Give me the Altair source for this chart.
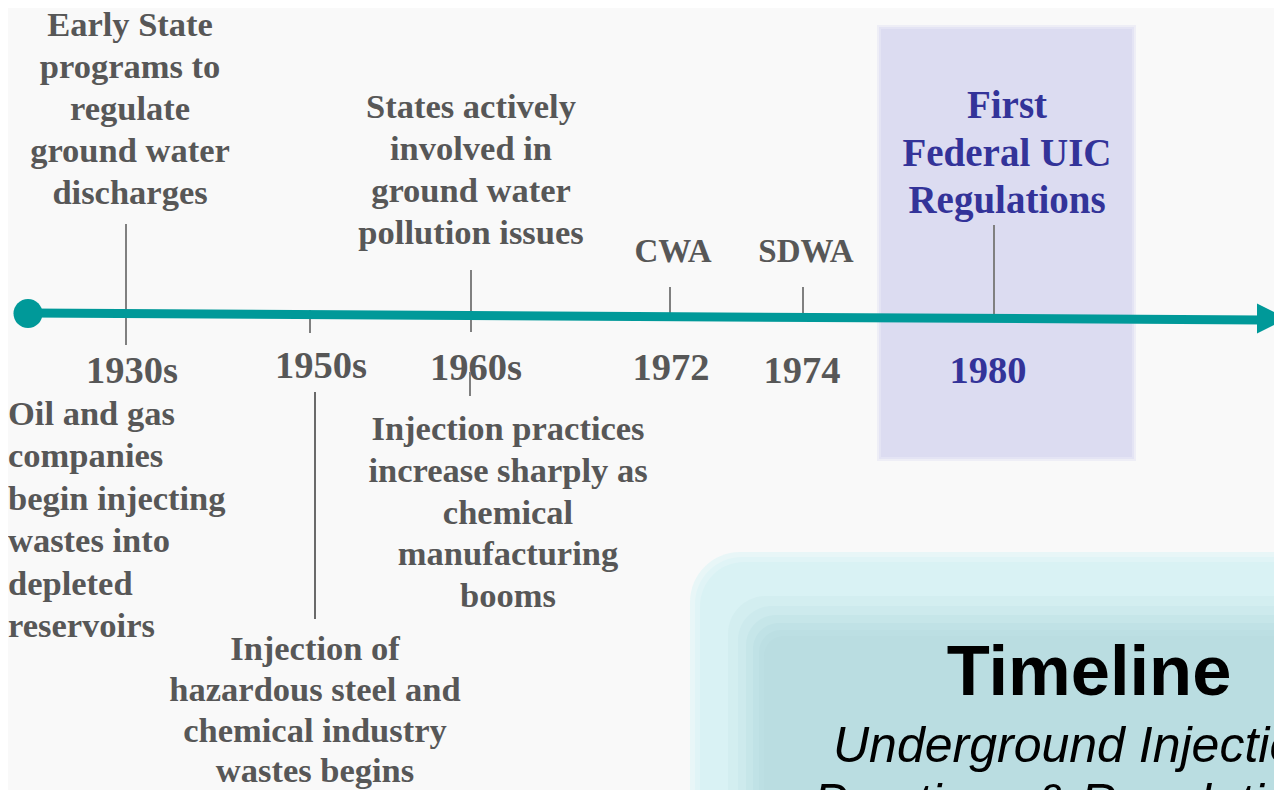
import altair as alt
import pandas as pd

# ---------------- data ----------------
years = ["1930s", "1950s", "1960s", "1972", "1974", "1980"]
above_text = [
    "Early State\nprograms to\nregulate\nground water\ndischarges",
    "States actively\ninvolved in\nground water\npollution issues",
    "CWA",
    "SDWA",
]
below_text_left = ["Oil and gas\ncompanies\nbegin injecting\nwastes into\ndepleted\nreservoirs"]
below_text_center = [
    "Injection practices\nincrease sharply as\nchemical\nmanufacturing\nbooms",
    "Injection of\nhazardous steel and\nchemical industry\nwastes begins",
]
highlight_text = ["First\nFederal UIC\nRegulations"]
title_text = "Timeline"
subtitle_text = "Underground Injection\nPractices & Regulations"

# ---------------- layout (pixel positions) ----------------
year_x = [132, 321, 476, 671, 802, 988]
year_y = [383, 378, 380, 380, 383, 383]
above_x = [130, 471, 673, 806]
above_y = [36, 118, 262, 262]
above_size = [34.5, 34.5, 33, 33]

GRAY = "#575757"
RULE = "#808080"
TEAL = "#009999"
PURPLE = "#333399"
SERIF = "Liberation Serif"
SANS = "Liberation Sans"

XMAX, YMAX = 1274, 790

X = lambda f="x": alt.X(f"{f}:Q", scale=alt.Scale(domain=[8, XMAX], nice=False, zero=False), axis=None)
Y = lambda f="y": alt.Y(f"{f}:Q", scale=alt.Scale(domain=[8, YMAX], nice=False, zero=False, reverse=True), axis=None)


def rects(df, **kw):
    return alt.Chart(df).mark_rect(**kw).encode(
        x=X("x"), x2="x2:Q", y=Y("y"), y2="y2:Q",
        color=alt.Color("c:N", scale=None),
    )


def texts(df, **kw):
    return alt.Chart(df).mark_text(lineBreak="\n", **kw).encode(
        x=X(), y=Y(), text="t:N",
        size=alt.Size("s:Q", scale=None),
        color=alt.Color("c:N", scale=None),
    )


# background panels
purple_box = rects(pd.DataFrame({
    "x": [877, 879, 881], "x2": [1136, 1134, 1132], "y": [25, 27, 29], "y2": [461, 459, 457],
    "c": ["#eeeef6", "#e4e4f4", "#dcdcf1"],
}))

teal_box_layers = []
for x0, y0, r, c in [
    (690, 552, 50, "#e8f6f7"),
    (695, 557, 47, "#e0f4f6"),
    (700, 562, 44, "#d9f2f4"),
    (728, 596, 38, "#d3eef0"),
    (738, 606, 34, "#cdeaed"),
    (746, 615, 30, "#c6e6e9"),
    (753, 623, 26, "#c0e2e6"),
    (759, 630, 22, "#bcdfe3"),
    (764, 636, 20, "#badde1"),
]:
    teal_box_layers.append(
        alt.Chart(pd.DataFrame({"x": [x0], "x2": [XMAX + r], "y": [y0], "y2": [YMAX + r], "c": [c]}))
        .mark_rect(cornerRadius=r, clip=True)
        .encode(x=X("x"), x2="x2:Q", y=Y("y"), y2="y2:Q", color=alt.Color("c:N", scale=None))
    )

# texts
above_df = pd.DataFrame({"x": above_x, "y": above_y, "t": above_text, "s": above_size, "c": GRAY})
above_layer = texts(above_df, font=SERIF, fontWeight="bold", align="center", baseline="alphabetic", lineHeight=42.1)

year_df = pd.DataFrame({
    "x": year_x, "y": year_y, "t": years, "s": [38.5] * 6,
    "c": [GRAY] * 5 + [PURPLE],
})
year_layer = texts(year_df, font=SERIF, fontWeight="bold", align="center", baseline="alphabetic")

left_df = pd.DataFrame({"x": [8], "y": [425], "t": below_text_left, "s": [34.5], "c": [GRAY]})
left_layer = texts(left_df, font=SERIF, fontWeight="bold", align="left", baseline="alphabetic", lineHeight=42.4)

center_a = pd.DataFrame({"x": [508], "y": [440], "t": [below_text_center[0]], "s": [34.5], "c": [GRAY]})
center_a_layer = texts(center_a, font=SERIF, fontWeight="bold", align="center", baseline="alphabetic", lineHeight=41.8)
center_b = pd.DataFrame({"x": [315], "y": [660], "t": [below_text_center[1]], "s": [34.5], "c": [GRAY]})
center_b_layer = texts(center_b, font=SERIF, fontWeight="bold", align="center", baseline="alphabetic", lineHeight=40.8)

hl_df = pd.DataFrame({"x": [1007], "y": [118], "t": highlight_text, "s": [39], "c": [PURPLE]})
hl_layer = texts(hl_df, font=SERIF, fontWeight="bold", align="center", baseline="alphabetic", lineHeight=47.5)

title_df = pd.DataFrame({"x": [1089], "y": [695], "t": [title_text], "s": [70.5], "c": ["#000000"]})
title_layer = texts(title_df, font=SANS, fontWeight="bold", align="center", baseline="alphabetic")

sub_df = pd.DataFrame({"x": [1079], "y": [762], "t": [subtitle_text], "s": [50], "c": ["#000000"]})
sub_layer = texts(sub_df, font=SANS, fontStyle="italic", align="center", baseline="alphabetic", lineHeight=57)

# connector rules
rule_df = pd.DataFrame({
    "x": [126, 310, 471, 470, 670, 803, 994],
    "y": [224, 310, 270, 372, 287, 287, 225],
    "y2": [345, 333, 332, 396, 316, 317, 318],
})
rules = alt.Chart(rule_df).mark_rule(color=RULE, strokeWidth=2).encode(x=X(), y=Y(), y2="y2:Q")
long_rule = alt.Chart(pd.DataFrame({"x": [315], "y": [392], "y2": [619]})).mark_rule(
    color="#3a3a3a", strokeWidth=1.5
).encode(x=X(), y=Y(), y2="y2:Q")

# timeline axis
axis_df = pd.DataFrame({"x": [28, 1262], "y": [313, 320]})
axis_line = alt.Chart(axis_df).mark_line(color=TEAL, strokeWidth=9, strokeCap="butt").encode(x=X(), y=Y())
start_dot = alt.Chart(pd.DataFrame({"x": [28], "y": [313.5]})).mark_circle(
    color=TEAL, size=841, opacity=1
).encode(x=X(), y=Y())
arrow = alt.Chart(pd.DataFrame({"x": [1272], "y": [318.5]})).mark_point(
    shape="M -1,-1 L 1,0 L -1,1 Z", filled=True, color=TEAL, size=900, opacity=1
).encode(x=X(), y=Y())

chart = alt.layer(
    purple_box, *teal_box_layers,
    above_layer, year_layer, left_layer, center_a_layer, center_b_layer, hl_layer, title_layer, sub_layer,
    rules, long_rule, axis_line, start_dot, arrow,
).properties(
    width=XMAX - 8, height=YMAX - 8, autosize=alt.AutoSizeParams(type="none"), padding=0,
    background="#f9f9f9",
).configure_view(stroke=None)

chart.save("out.html", embed_options={"renderer": "svg", "actions": False})
